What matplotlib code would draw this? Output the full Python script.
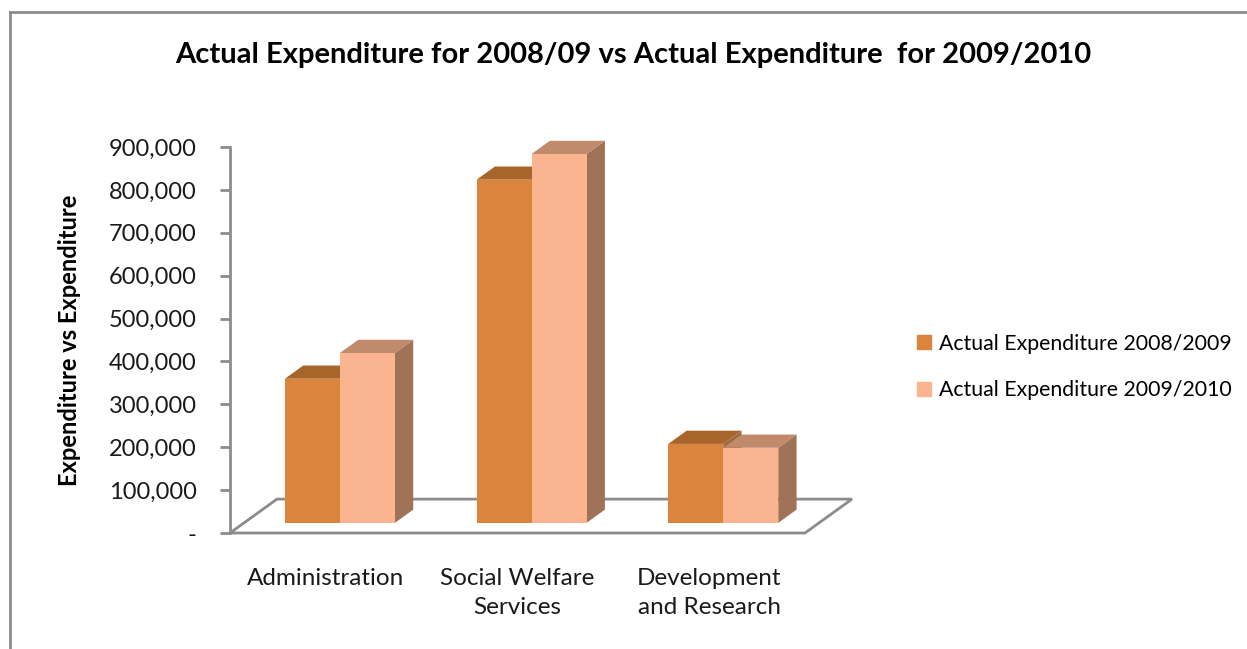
import matplotlib
matplotlib.use("Agg")
import matplotlib.pyplot as plt
from matplotlib.ticker import FuncFormatter
from matplotlib.lines import Line2D

plt.rcParams['font.family'] = ['Lato', 'DejaVu Sans']

categories = ['Administration', 'Social Welfare\nServices', 'Development\nand Research']
series_names = ['Actual Expenditure 2008/2009', 'Actual Expenditure 2009/2010']
exp_2008 = [336000, 800000, 184000]
exp_2009 = [396000, 860000, 175000]
yticks = [0, 100000, 200000, 300000, 400000, 500000, 600000, 700000, 800000, 900000]

# colours: front, top, side
front = ['#DB843D', '#FAB590']
top = ['#A8652B', '#C08A6B']
side = ['#9E6A43', '#A07358']

W, H = 1247, 649
fig = plt.figure(figsize=(W / 100, H / 100), dpi=100)

# outer chart frame
fig.add_artist(Line2D([10 / W, 10 / W], [0, 1 - 12 / H], transform=fig.transFigure,
                      color='#8c8c8c', lw=2))
fig.add_artist(Line2D([10 / W, 1], [1 - 12 / H, 1 - 12 / H], transform=fig.transFigure,
                      color='#8c8c8c', lw=2))

ax = fig.add_axes([230 / W, (H - 533) / H, 575 / W, 386 / H])
ax.set_xlim(-0.5, 2.5)
ax.set_ylim(0, 900000)

# oblique depth step (x units, value units) for the floor
DX, DY = 0.245, 79000
z0, z1 = 0.30, 0.69      # bar depth inside the floor
bw = 0.287

floor = [(-0.5, 0), (2.5, 0), (2.5 + DX, DY), (-0.5 + DX, DY)]
ax.fill(*zip(*floor), facecolor='white', edgecolor='#8c8c8c', lw=2, zorder=1, clip_on=False)

base = z0 * DY
dz = z1 - z0
zo = 2
for i in range(len(categories)):
    for s, vals in enumerate([exp_2008, exp_2009]):
        x0 = i - bw + s * bw + z0 * DX
        v = vals[i]
        t = base + v
        ox, oy = dz * DX, dz * DY
        ax.fill([x0 + bw, x0 + bw, x0 + bw + ox, x0 + bw + ox],
                [base, t, t + oy, base + oy],
                facecolor=side[s], edgecolor='none', zorder=zo, clip_on=False)
        ax.bar(x0, v, width=bw, bottom=base, align='edge', color=front[s],
               edgecolor='none', zorder=zo + 1, clip_on=False)
        ax.fill([x0, x0 + bw, x0 + bw + ox, x0 + ox], [t, t, t + oy, t + oy],
                facecolor=top[s], edgecolor='none', zorder=zo + 1, clip_on=False)
        zo += 2

for sp in ['top', 'right', 'bottom']:
    ax.spines[sp].set_visible(False)
ax.spines['left'].set_color('#8c8c8c')
ax.spines['left'].set_linewidth(2)
ax.set_yticks(yticks)
ax.yaxis.set_major_formatter(FuncFormatter(lambda v, p: '-' if v == 0 else f'{int(v):,}'))
ax.tick_params(axis='y', length=7, width=2, color='#8c8c8c', labelsize=17,
               labelcolor='#1a1a1a', pad=17)
ax.set_xticks(range(len(categories)))
ax.set_xticklabels(categories)
ax.tick_params(axis='x', length=0, labelsize=17.5, labelcolor='#1a1a1a', pad=25)
for lbl in ax.get_xticklabels():
    lbl.set_linespacing(1.5)
ax.set_facecolor('none')

fig.text(70 / W, 1 - 340 / H, 'Expenditure vs Expenditure', rotation=90,
         ha='center', va='center', fontsize=17, fontweight='bold')
fig.text(633 / W, 1 - 55 / H,
         'Actual Expenditure for 2008/09 vs Actual Expenditure  for 2009/2010',
         ha='center', va='center', fontsize=21, fontweight='bold')

handles = [plt.Rectangle((0, 0), 1, 1, color=c) for c in front]
fig.legend(handles, series_names, loc='center left',
           bbox_to_anchor=(898 / W, 1 - 367 / H), frameon=False, fontsize=15.3,
           handlelength=0.65, handleheight=0.65, handletextpad=0.4, labelspacing=1.25)

fig.savefig('out.png', dpi=100)
